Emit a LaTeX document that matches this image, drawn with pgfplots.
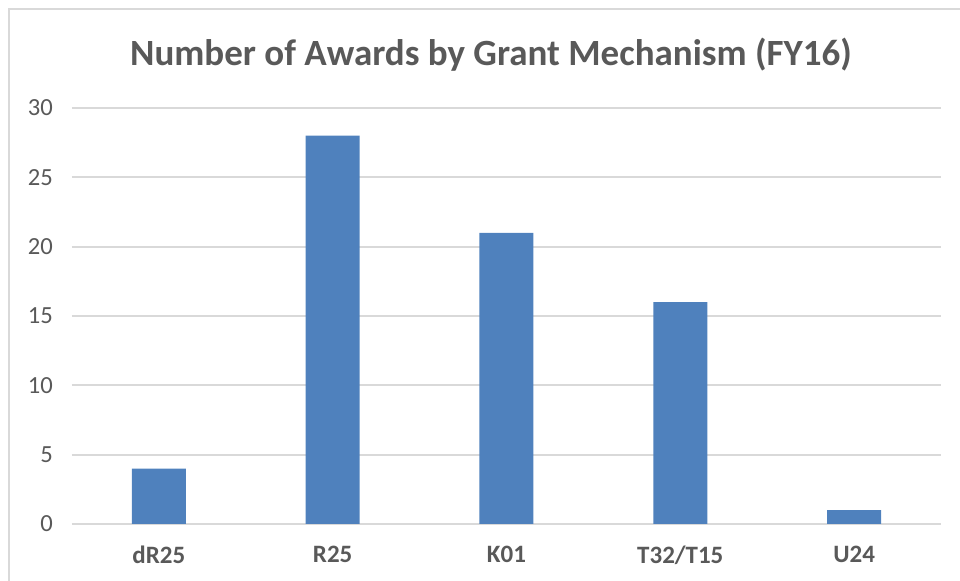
\documentclass[border=0pt]{standalone}
\usepackage{pgfplots}
\pgfplotsset{compat=1.18}
\usepackage{fontspec}
\setmainfont{Carlito}
\definecolor{barblue}{HTML}{4F81BD}
\definecolor{gridgray}{HTML}{D9D9D9}
\definecolor{txtgray}{HTML}{595959}
\begin{document}
\begin{tikzpicture}
\path[use as bounding box] (0pt,0pt) rectangle (480pt,290.5pt);
\draw[gridgray, line width=1pt] (4.5pt,0pt) -- (4.5pt,286pt) -- (480pt,286pt);
\node[txtgray, font=\fontsize{18.5}{21}\selectfont\bfseries] at (245.5pt,263pt) {Number of Awards by Grant Mechanism (FY16)};
\begin{axis}[
  at={(36pt,28.5pt)}, anchor=south west,
  scale only axis, width=434.5pt, height=208pt,
  xmin=-0.5, xmax=4.5, ymin=0, ymax=30,
  axis line style={draw=none},
  ybar, bar width=27pt,
  xtick=data, xticklabels={dR25,R25,K01,T32/T15,U24},
  ytick={0,5,...,30},
  major tick length=0pt,
  ymajorgrids, grid style={gridgray, line width=1pt},
  /pgf/number format/assume math mode=true,
  xticklabel style={font=\fontsize{12.5}{14}\selectfont\bfseries, text=txtgray, yshift=-7.5pt},
  yticklabel style={font=\fontsize{12.3}{14}\selectfont, text=txtgray, xshift=-6pt},
]
\addplot[fill=barblue, draw=none] coordinates {(0,4) (1,28) (2,21) (3,16) (4,1)};
\end{axis}
\end{tikzpicture}
\end{document}
